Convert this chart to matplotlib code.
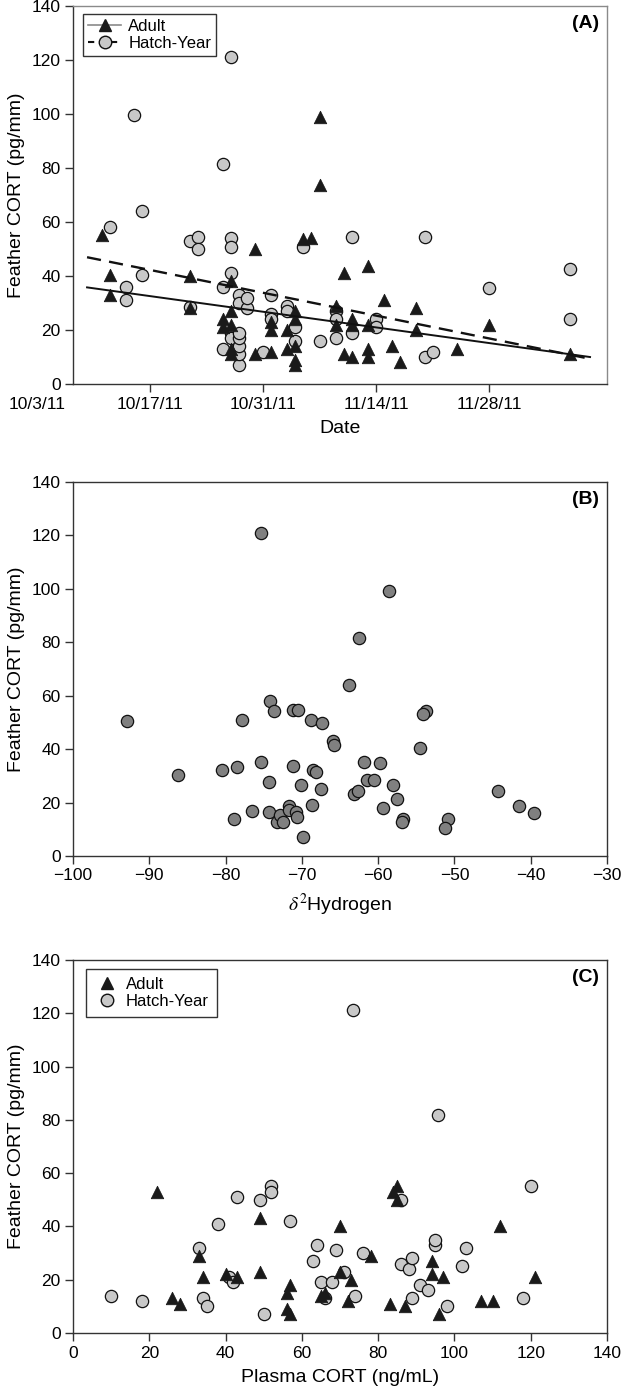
import numpy as np
import pandas as pd
import matplotlib
matplotlib.use("Agg")
import matplotlib.pyplot as plt
import matplotlib.dates as mdates
from matplotlib.lines import Line2D

plt.rcParams['font.family'] = ['Liberation Sans', 'DejaVu Sans']
plt.rcParams['mathtext.fontset'] = 'stix'

# --- Panel A: feather CORT by date ---
adult_dates = ["2011-10-11", "2011-10-12", "2011-10-12", "2011-10-22", "2011-10-22",
               "2011-10-26", "2011-10-26", "2011-10-27", "2011-10-27", "2011-10-27",
               "2011-10-27", "2011-10-27", "2011-10-30", "2011-10-30", "2011-11-01",
               "2011-11-01", "2011-11-01", "2011-11-03", "2011-11-03", "2011-11-04",
               "2011-11-04", "2011-11-04", "2011-11-04", "2011-11-04", "2011-11-05",
               "2011-11-06", "2011-11-07", "2011-11-07", "2011-11-09", "2011-11-09",
               "2011-11-10", "2011-11-10", "2011-11-11", "2011-11-11", "2011-11-11",
               "2011-11-13", "2011-11-13", "2011-11-13", "2011-11-13", "2011-11-15",
               "2011-11-16", "2011-11-17", "2011-11-19", "2011-11-19", "2011-11-24",
               "2011-11-28", "2011-12-08"]
adult_cort = [55.2, 40.4, 33, 40, 28,
              21, 24, 38.3, 27, 22,
              13, 11, 50, 11, 12,
              20, 23, 13, 20, 9,
              14, 27, 24, 7, 53.6,
              54, 99, 73.7, 29, 22,
              41.2, 11, 10, 22, 24,
              13, 10, 22, 43.6, 31,
              14, 8, 28, 20, 13,
              22, 11]

hy_dates = ["2011-10-12", "2011-10-14", "2011-10-14", "2011-10-15", "2011-10-16",
            "2011-10-16", "2011-10-22", "2011-10-22", "2011-10-23", "2011-10-23",
            "2011-10-26", "2011-10-26", "2011-10-26", "2011-10-27", "2011-10-27",
            "2011-10-27", "2011-10-27", "2011-10-27", "2011-10-27", "2011-10-28",
            "2011-10-28", "2011-10-28", "2011-10-28", "2011-10-28", "2011-10-28",
            "2011-10-28", "2011-10-29", "2011-10-29", "2011-10-31", "2011-11-01",
            "2011-11-01", "2011-11-01", "2011-11-03", "2011-11-03", "2011-11-04",
            "2011-11-04", "2011-11-05", "2011-11-07", "2011-11-09", "2011-11-09",
            "2011-11-09", "2011-11-11", "2011-11-11", "2011-11-14", "2011-11-14",
            "2011-11-20", "2011-11-20", "2011-11-21", "2011-11-28", "2011-12-08",
            "2011-12-08"]
hy_cort = [58, 35.8, 31, 99.5, 64.1,
           40.4, 53.1, 28.5, 54.3, 49.9,
           13, 81.5, 35.9, 19, 17,
           121.2, 54, 50.6, 41.2, 7,
           11, 14, 17, 19, 33,
           30, 28, 32, 12, 33,
           26, 24, 29, 27, 16,
           21, 50.6, 16, 27, 24,
           17, 19, 54.6, 24, 21,
           54.6, 10, 12, 35.4, 42.7,
           24]

# regression lines: intercept at 10/3/11, slope per day
fit_origin = "2011-10-03"
fit_span_days = [6.2, 68.5]
adult_fit = [38.35, -0.414]
hy_fit = [50.7, -0.604]

date_ticks = ["2011-10-17", "2011-10-31", "2011-11-14", "2011-11-28"]
first_date_label = "2011-10-03"
date_lim_days = [4.46, 70.6]

# --- Panel B: feather CORT vs delta 2H (hatch-year) ---
hydrogen = [-92.9, -86.2, -80.5, -78.5, -77.9, -78.9, -76.5, -75.4, -74.3, -74.2,
            -73.6, -74.3, -73.3, -72.9, -72.5, -71.7, -71.7, -71.2, -71.2, -70.5,
            -70.8, -70.6, -70.1, -69.9, -68.8, -68.7, -68.5, -68.1, -67.5, -67.4,
            -65.9, -65.8, -63.8, -63.2, -62.6, -62.5, -53.7, -54.1, -54.5, -61.9,
            -59.8, -61.5, -60.5, -58.1, -57.5, -59.4, -56.8, -56.9, -50.8, -51.2,
            -44.3, -41.6, -39.6, -75.4, -58.6]
hydrogen_cort = [50.5, 30.2, 32.1, 33.3, 50.8, 13.7, 16.9, 35.2, 27.7, 58.2,
                 54.1, 16.4, 12.8, 15.3, 12.8, 18.7, 17.4, 33.7, 54.8, 54.8,
                 16.4, 14.7, 26.5, 7.1, 50.8, 19.0, 32.1, 31.6, 24.9, 49.9,
                 42.9, 41.4, 64.1, 23.1, 24.3, 81.5, 54.1, 53.0, 40.4, 35.2,
                 34.8, 28.4, 28.4, 26.4, 21.3, 18.0, 13.7, 12.8, 13.7, 10.6,
                 24.2, 18.9, 16.2, 120.8, 99.3]

# --- Panel C: feather CORT vs plasma CORT ---
adult_plasma = [22, 26, 28, 33, 34, 40, 43, 49, 49, 56,
                56, 57, 57, 65, 66, 70, 70, 72, 73, 78,
                83, 84, 85, 85, 87, 94, 94, 96, 97, 107,
                110, 112, 121]
adult_plasma_cort = [53, 13, 11, 29, 21, 22, 21, 43, 23, 15,
                     9, 7, 18, 14, 15, 40, 23, 12, 20, 29,
                     11, 53, 55, 50, 10, 27, 22, 7, 21, 12,
                     12, 40, 21]
hy_plasma = [10, 18, 33, 34, 35, 38, 41, 42, 43, 49,
             50, 52, 52, 57, 63, 64, 65, 66, 68, 69,
             71, 73.3, 74, 76, 86, 86, 88, 89, 89, 91,
             93, 95, 95, 95.6, 98, 102, 103, 118, 120]
hy_plasma_cort = [14, 12, 32, 13, 10, 41, 21, 19, 51, 50,
                  7, 55, 53, 42, 27, 33, 19, 13, 19, 31,
                  23, 121.4, 14, 30, 50, 26, 24, 28, 13, 18,
                  16, 33, 35, 81.8, 10, 25, 32, 13, 55]

W, H = 622, 1389
fig = plt.figure(figsize=(W / 100, H / 100), dpi=100)

TICK_FS = 12.5
LABEL_FS = 14
LEG_FS = 12

def px_axes(left, top, right, bottom):
    return fig.add_axes([left / W, 1 - bottom / H, (right - left) / W, (bottom - top) / H])

def style(ax, letter, frame='#333333'):
    for s in ax.spines.values():
        s.set_linewidth(1.0)
        s.set_color('#333333')
    ax.spines['top'].set_color(frame)
    ax.spines['right'].set_color(frame)
    ax.tick_params(direction='out', length=6, width=1, labelsize=TICK_FS, colors='#333333',
                   labelcolor='black', top=False, right=False, pad=3)
    ax.set_ylim(0, 140)
    ax.set_yticks(np.arange(0, 141, 20))
    ax.set_ylabel("Feather CORT (pg/mm)", fontsize=LABEL_FS, labelpad=5)
    ax.text(0.985, 0.975, letter, transform=ax.transAxes, ha='right', va='top',
            fontsize=14, fontweight='bold')

tri = dict(marker='^', s=80, facecolor='#1a1a1a', edgecolor='#1a1a1a', linewidths=0.6, zorder=3)
circ = dict(marker='o', s=78, facecolor='#c8c8c8', edgecolor='#111111', linewidths=0.9, zorder=3)

# Panel A
axA = px_axes(73, 6, 607, 384)
ad = pd.to_datetime(adult_dates)
hd = pd.to_datetime(hy_dates)
axA.scatter(hd, hy_cort, **circ)
axA.scatter(ad, adult_cort, **tri)
t0 = pd.Timestamp(fit_origin)
fd = np.array(fit_span_days)
span = [t0 + pd.Timedelta(days=d) for d in fd]
axA.plot(span, adult_fit[0] + adult_fit[1] * fd, color='#111111', lw=1.4, zorder=4)
axA.plot(span, hy_fit[0] + hy_fit[1] * fd, color='#111111', lw=1.7,
         ls=(0, (6, 3.5)), zorder=4)
axA.set_xlim([t0 + pd.Timedelta(days=d) for d in date_lim_days])
axA.set_xticks(pd.to_datetime(date_ticks))
axA.xaxis.set_major_formatter(mdates.DateFormatter('%-m/%-d/%y'))
style(axA, "(A)", frame='#8a8a8a')
# first date label sits left of the plotting area in the original
d0 = pd.Timestamp(first_date_label)
axA.annotate(d0.strftime('%-m/%-d/%y'), xy=(mdates.date2num(d0), 0),
             xycoords=('data', 'axes fraction'), xytext=(0, -9),
             textcoords='offset points', ha='center', va='top',
             fontsize=TICK_FS, annotation_clip=False)
axA.set_xlabel("Date", fontsize=LABEL_FS, labelpad=6)
handles = [Line2D([], [], color='#8a8a8a', lw=1.2, marker='^', markersize=9,
                  markerfacecolor='#1a1a1a', markeredgecolor='#1a1a1a'),
           Line2D([], [], color='#111111', lw=1.5, ls=(0, (3, 2.5)), marker='o', markersize=9,
                  markerfacecolor='#c8c8c8', markeredgecolor='#111111')]
legA = axA.legend(handles, ["Adult", "Hatch-Year"], loc='upper left', fontsize=LEG_FS,
                  frameon=True, fancybox=False, edgecolor='black', handlelength=2.0,
                  handletextpad=0.4, borderpad=0.3, labelspacing=0.1, borderaxespad=0,
                  bbox_to_anchor=(0.019, 0.979))
legA.get_frame().set_linewidth(1.0)

# Panel B
axB = px_axes(73, 482, 607, 856)
axB.scatter(hydrogen, hydrogen_cort, marker='o', s=78, facecolor='#808080',
            edgecolor='#111111', linewidths=0.9, zorder=3)
axB.set_xlim(-100, -30)
axB.set_xticks(np.arange(-100, -29, 10))
style(axB, "(B)")
axB.set_xlabel(r"$\delta^2$Hydrogen", fontsize=LABEL_FS, labelpad=6)

# Panel C
axC = px_axes(73, 960, 607, 1333)
axC.scatter(hy_plasma, hy_plasma_cort, **circ)
axC.scatter(adult_plasma, adult_plasma_cort, **tri)
axC.set_xlim(0, 140)
axC.set_xticks(np.arange(0, 141, 20))
style(axC, "(C)")
axC.set_xlabel("Plasma CORT (ng/mL)", fontsize=LABEL_FS, labelpad=6)
handlesC = [Line2D([], [], ls='none', marker='^', markersize=9,
                   markerfacecolor='#1a1a1a', markeredgecolor='#1a1a1a'),
            Line2D([], [], ls='none', marker='o', markersize=9,
                   markerfacecolor='#c8c8c8', markeredgecolor='#111111')]
legC = axC.legend(handlesC, ["Adult", "Hatch-Year"], loc='upper left', fontsize=LEG_FS,
                  frameon=True, fancybox=False, edgecolor='black', handlelength=1.6,
                  handletextpad=0.3, borderpad=0.5, labelspacing=0.1, borderaxespad=0,
                  bbox_to_anchor=(0.024, 0.976))
legC.get_frame().set_linewidth(1.0)

fig.savefig("out.png", dpi=100)
